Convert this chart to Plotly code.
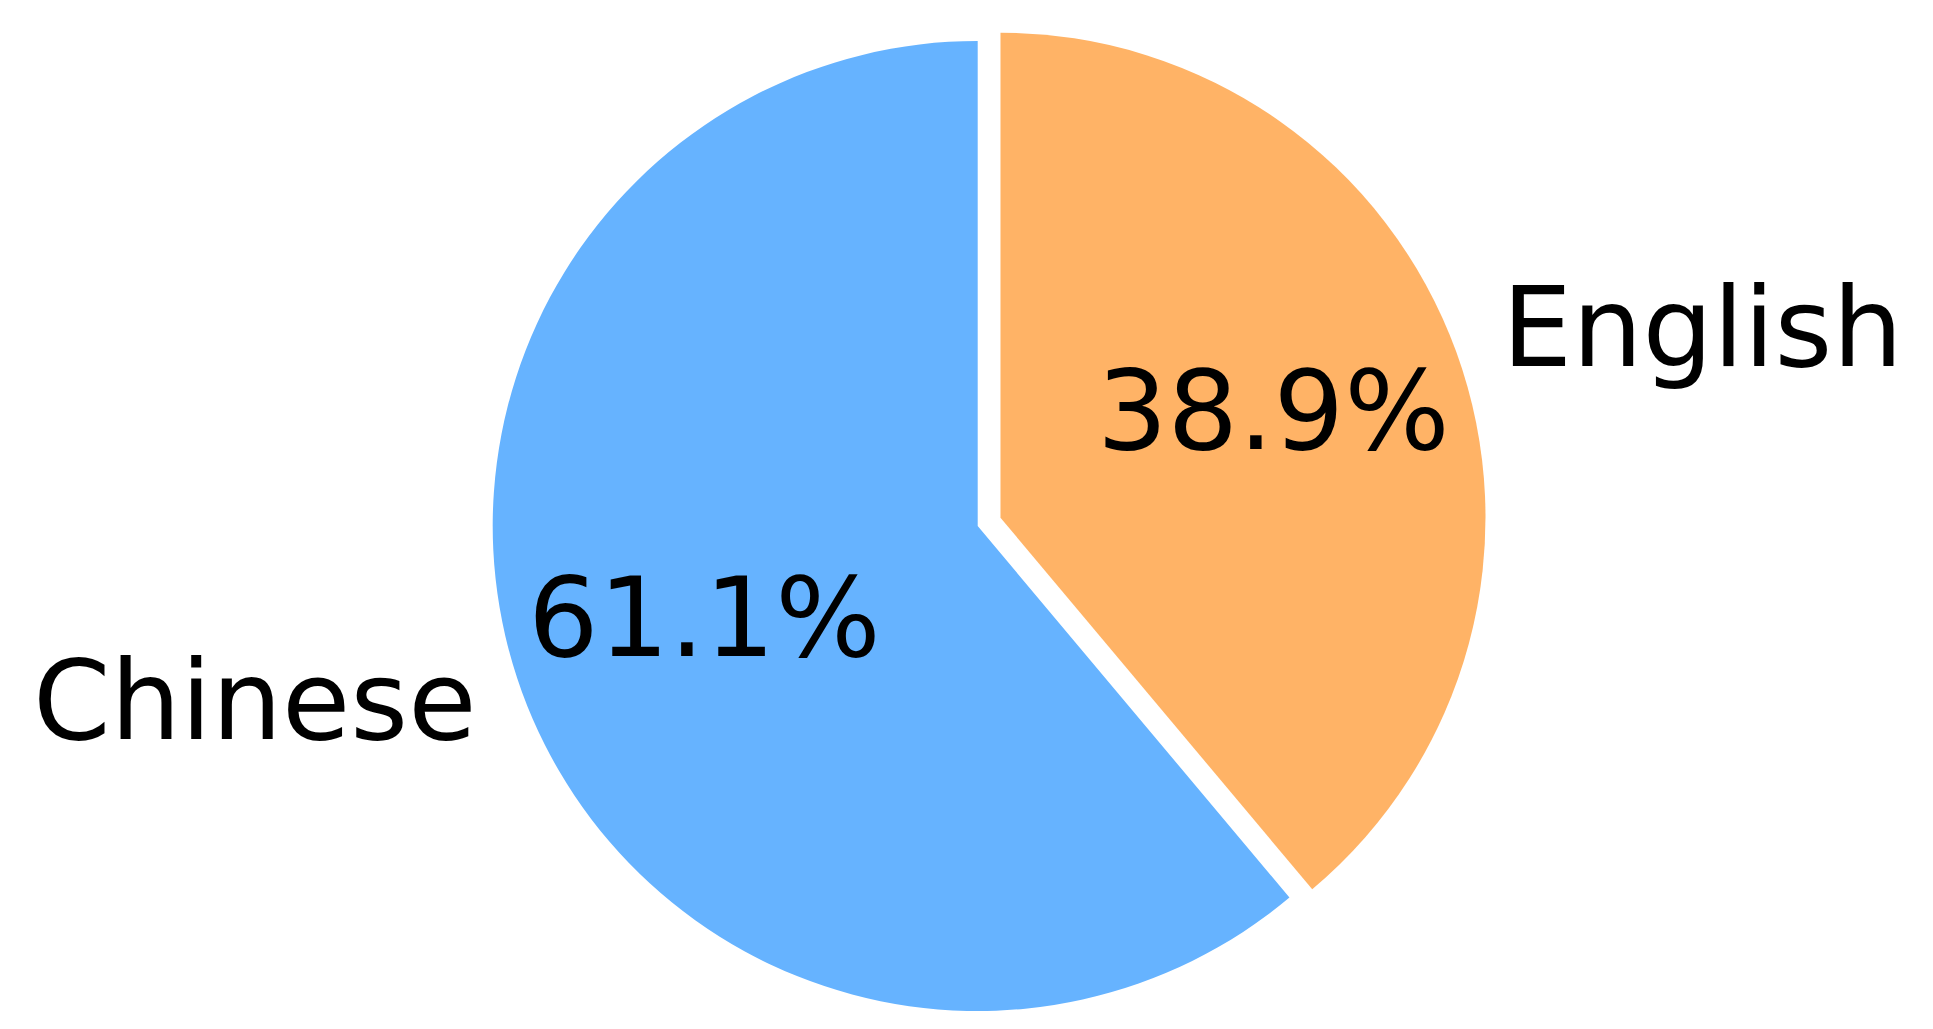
import math
import plotly.graph_objects as go

# ---- data ----
labels = ["Chinese", "English"]
values = [11, 7]
colors = ["#66b3ff", "#ffb366"]
explode = [0.0, 0.05]

# ---- layout constants ----
PAGE_MARGIN = 8                       # default body margin of the html page
W, H = 1933 - 2 * PAGE_MARGIN, 1029 - 2 * PAGE_MARGIN
CX, CY, R = 977.7 - PAGE_MARGIN, 526.0 - PAGE_MARGIN, 485.0   # pie centre / radius (px)
FONT_SIZE = 111
TEXT_DY = -8  # pixels, vertical tweak for text centring

total = sum(values)
fig = go.Figure()
start = 90.0  # degrees, counterclockwise from 3 o'clock (matplotlib startangle=90)
for i, (lab, v) in enumerate(zip(labels, values)):
    frac = v / total
    theta = math.radians(start + 360 * frac / 2)
    start += 360 * frac
    cx = CX + explode[i] * R * math.cos(theta)
    cy = CY - explode[i] * R * math.sin(theta)
    slice_colors = [c if j == i else "rgba(0,0,0,0)" for j, c in enumerate(colors)]
    # plotly: clockwise from 12 o'clock; feed reversed order so the first
    # category runs counterclockwise from the top as in the reference
    fig.add_trace(go.Pie(
        labels=labels[::-1], values=values[::-1], sort=False,
        direction="clockwise", rotation=0,
        marker=dict(colors=slice_colors[::-1], line=dict(width=0)),
        textinfo="none", hoverinfo="label+percent",
        domain=dict(x=[(cx - R) / W, (cx + R) / W],
                    y=[1 - (cy + R) / H, 1 - (cy - R) / H]),
        showlegend=False,
    ))
    lx = cx + 1.1 * R * math.cos(theta)
    ly = cy - 1.1 * R * math.sin(theta)
    px = cx + 0.6 * R * math.cos(theta)
    py = cy - 0.6 * R * math.sin(theta)
    font = dict(family="DejaVu Sans", size=FONT_SIZE, color="black")
    right_side = math.cos(theta) > 0
    fig.add_annotation(x=lx / W, y=1 - ly / H, xref="paper", yref="paper",
                       text=lab, showarrow=False,
                       xanchor="left" if right_side else "right",
                       yanchor="middle", yshift=-TEXT_DY,
                       borderpad=0, borderwidth=0, font=font)
    fig.add_annotation(x=px / W, y=1 - py / H, xref="paper", yref="paper",
                       text=f"{100 * frac:.1f}%", showarrow=False,
                       xanchor="center", yanchor="middle", yshift=-TEXT_DY,
                       borderpad=0, borderwidth=0, font=font)

fig.update_layout(
    width=W, height=H,
    margin=dict(l=0, r=0, t=0, b=0),
    paper_bgcolor="white", plot_bgcolor="white",
    showlegend=False,
)
fig.write_html("out.html")
